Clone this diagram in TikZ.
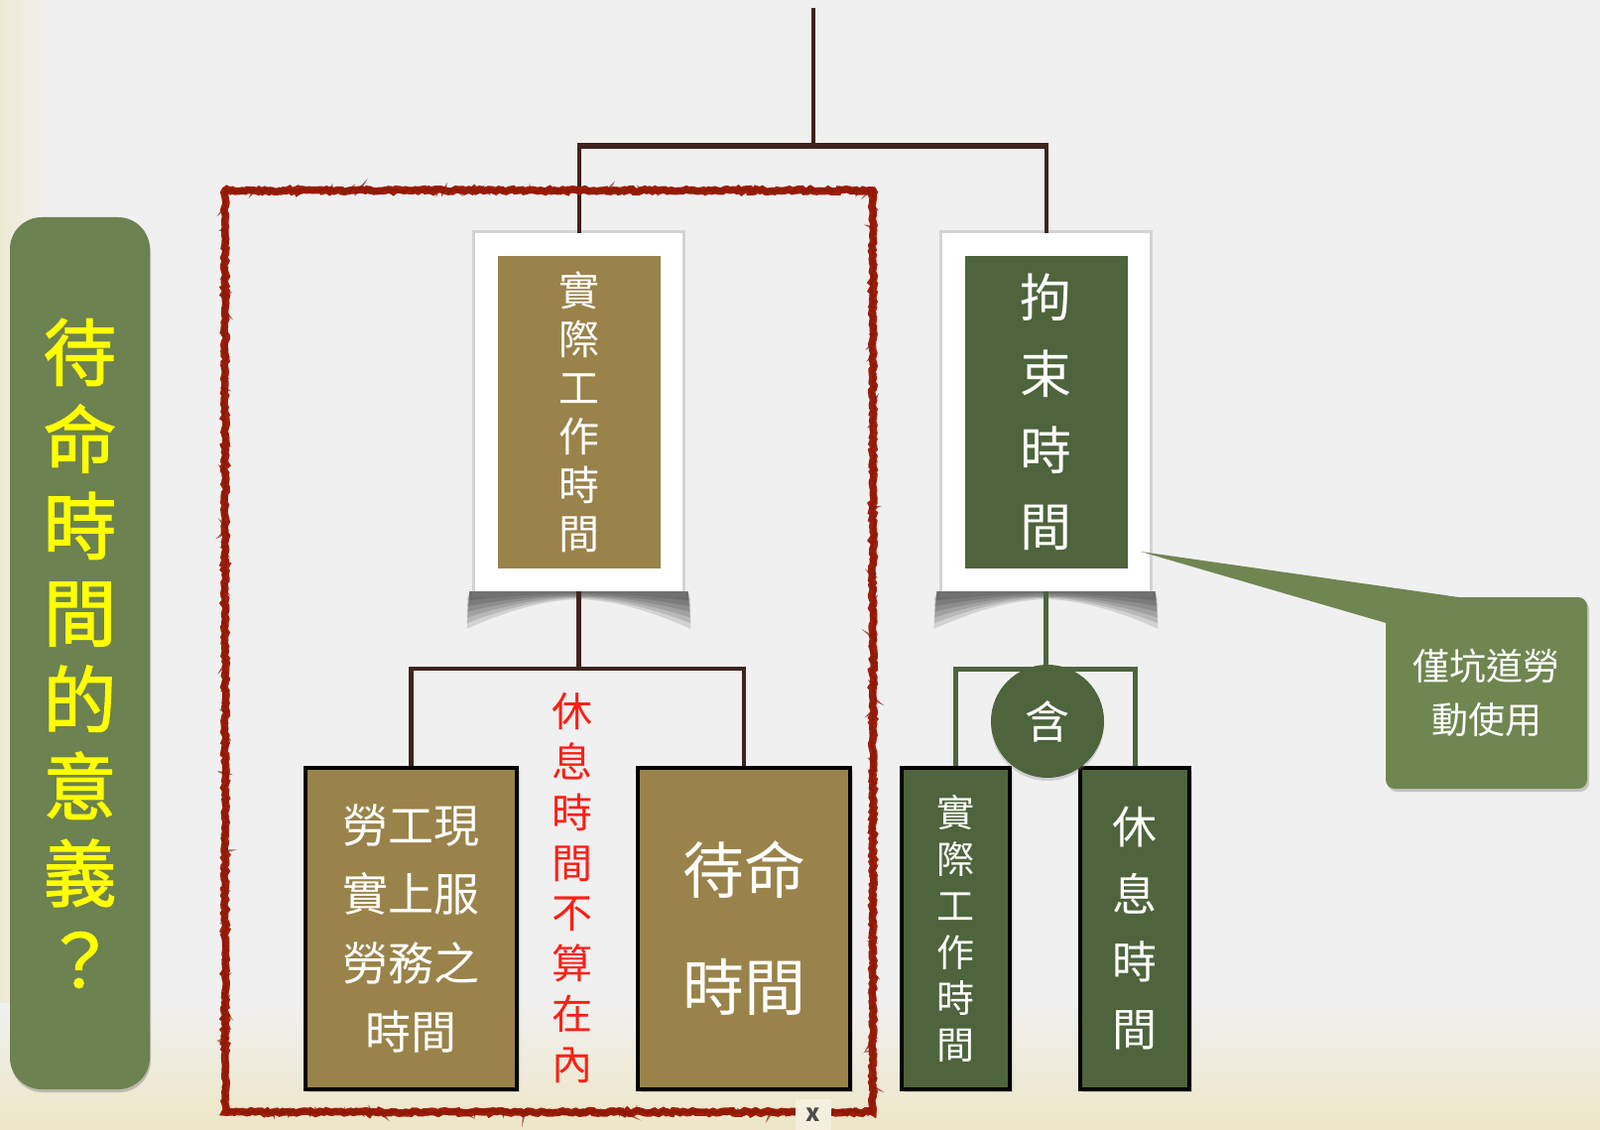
\documentclass[tikz,border=0pt]{standalone}
\usepackage{fontspec}
\setmainfont{Noto Sans CJK TC}
\newfontfamily\titlefont{Noto Sans CJK TC}[FakeBold=1.5]
\usetikzlibrary{shadows,decorations.pathmorphing,calc}
\definecolor{bg}{HTML}{F0F0F0}
\definecolor{cream}{HTML}{EDE6C6}
\definecolor{brownline}{HTML}{40231C}
\definecolor{gold}{HTML}{99834A}
\definecolor{dgreen}{HTML}{4D643C}
\definecolor{olive}{HTML}{6C8250}
\definecolor{callg}{HTML}{6F8651}
\definecolor{chalk}{HTML}{A01E0A}
\definecolor{redtxt}{HTML}{FF1E14}
\definecolor{ylw}{HTML}{FFFF00}
\begin{document}
\begin{tikzpicture}[x=1pt,y=-1pt,
  frame/.style={fill=white, inner sep=0pt, minimum width=209pt, minimum height=361pt,
    drop shadow={shadow xshift=0pt, shadow yshift=-1pt, shadow scale=1.025, opacity=0.25}},
  inner/.style={inner sep=0pt, minimum width=164pt, minimum height=315pt, text=white, align=center},
  lowbox/.style={draw=black, line width=4pt, inner sep=0pt, minimum height=324pt, text=white, align=center,
    drop shadow={shadow xshift=3pt, shadow yshift=-3pt, opacity=0.3}},
  bline/.style={draw=brownline, line width=4.5pt},
  gline/.style={draw=dgreen, line width=5pt},
  curl/.style={fill=black, fill opacity=0.12, draw=none}
]
% background
\useasboundingbox (0,0) rectangle (1613,1139);
\fill[bg] (0,0) rectangle (1613,1139);
\shade[top color=bg, bottom color=cream] (0,1010) rectangle (1613,1139);
\shade[left color=cream!70!bg, right color=bg] (0,0) rectangle (50,1010);

% title
\node[fill=olive, rounded corners=32pt, minimum width=141pt, minimum height=879pt, inner sep=0pt,
  text=ylw, align=center, font=\titlefont\fontsize{74}{87.5}\selectfont,
  drop shadow={shadow xshift=1pt, shadow yshift=-3pt, opacity=0.45}] (title) at (80.5,658.5)
  {待\\命\\時\\間\\的\\意\\義\\？};

% curled shadows below the top frames (layered to fade downward)
\foreach \cx in {583.5,1054.5}{
  \foreach \f in {0.25,0.4,0.55,0.7,0.85,1.0}{
    \fill[curl] (\cx-110,596) -- (\cx-113,596+38*\f)
      .. controls (\cx-78,596+22*\f) and (\cx-38,596+9*\f) .. (\cx,596+8*\f)
      .. controls (\cx+38,596+9*\f) and (\cx+78,596+22*\f) .. (\cx+113,596+38*\f)
      -- (\cx+110,596) -- cycle;
  }
}

% connectors (upper level)
\coordinate (root) at (820,8);
\coordinate (j1) at (820,147);
\coordinate (j2) at (583.5,674);
\coordinate (j3) at (1054.5,674);

\node[frame] (ltop) at (583.5,415.5) {};
\node[frame] (rtop) at (1054.5,415.5) {};

\draw[bline] (root) -- (j1);
\draw[bline, line width=4pt] (ltop.north) -- (ltop.north |- j1);
\draw[bline, line width=4pt] (rtop.north) -- (rtop.north |- j1);
\draw[bline, line width=6.5pt] ($(ltop.north |- j1)+(-2,0)$) -- ($(rtop.north |- j1)+(2,0)$);

% top inner boxes
\node[inner, fill=gold, font=\fontsize{41}{49}\selectfont] (ltin) at (ltop.center) {實\\際\\工\\作\\時\\間};
\node[inner, fill=dgreen, font=\fontsize{52}{77}\selectfont] (rtin) at (rtop.center) {拘\\束\\時\\間};

% lower boxes
\node[lowbox, fill=gold, minimum width=213pt, font=\fontsize{46}{69.6}\selectfont] (b1) at (414.5,936) {勞工現\\實上服\\勞務之\\時間};
\node[lowbox, fill=gold, minimum width=214pt, font=\fontsize{62}{118}\selectfont] (b2) at (750,936) {待命\\時間};
\node[lowbox, fill=dgreen, minimum width=109pt, font=\fontsize{38}{46.9}\selectfont] (b3) at (963.5,936) {實\\際\\工\\作\\時\\間};
\node[lowbox, fill=dgreen, minimum width=110pt, font=\fontsize{45}{68}\selectfont] (b4) at (1144,936) {休\\息\\時\\間};

% lower connectors
\draw[bline] (ltop.south) -- (j2);
\draw[bline, line join=miter] (b1.north) |- (j2) -| (b2.north);
\draw[gline] (rtop.south) -- (j3);
\draw[gline, line join=miter] (b3.north) |- (j3) -| (b4.north);

% circle
\node[circle, fill=dgreen, minimum size=114pt, inner sep=0pt, text=white, font=\fontsize{45}{54}\selectfont,
  drop shadow={shadow xshift=0pt, shadow yshift=-3pt, opacity=0.3}] (han) at (1056,727) {含};

% red note
\node[text=redtxt, align=center, inner sep=0pt, font=\fontsize{41}{50.8}\selectfont] (note) at (577,895)
  {休\\息\\時\\間\\不\\算\\在\\內};

% chalk rectangle
\draw[chalk, line width=7.5pt, line join=miter, decorate,
  decoration={random steps, segment length=3pt, amplitude=1.3pt}] (227,192) rectangle (880,1121);
\draw[chalk!85!black, line width=3pt, opacity=0.7, decorate,
  decoration={random steps, segment length=2pt, amplitude=2.2pt}] (227,192) rectangle (880,1121);

% x mark
\node[fill=cream!60!white, minimum width=36pt, minimum height=33pt, inner sep=0pt,
  text=black!70, font=\fontsize{24}{26}\selectfont\bfseries] (xm) at (820,1124) {x};

% callout
\coordinate (tip) at (1150,556);
\node[fill=callg, rounded corners=9pt, minimum width=203pt, minimum height=193pt, inner sep=0pt,
  text=white, align=center, font=\fontsize{37}{53.5}\selectfont,
  drop shadow={shadow xshift=2pt, shadow yshift=-3pt, opacity=0.4}] (call) at (1498.5,698.5) {僅坑道勞\\動使用};
\fill[callg] (tip) -- ($(call.north west)+(76,0.5)$) -- ($(call.north west)+(0,26)$) -- cycle;
\end{tikzpicture}
\end{document}
